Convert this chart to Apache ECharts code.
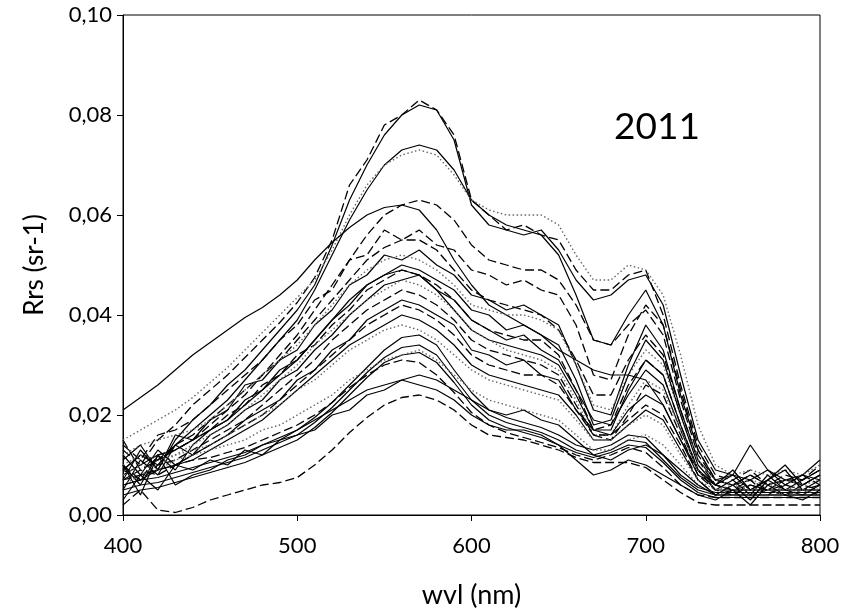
<!DOCTYPE html>
<html>
<head>
<meta charset="utf-8">
<script src="https://cdn.jsdelivr.net/npm/echarts@6/dist/echarts.min.js"></script>
<style>
  html, body { margin: 0; padding: 0; background: #fff; }
  #chart { width: 852px; height: 613px; }
</style>
</head>
<body>
<div id="chart"></div>
<script>
// wavelength grid (nm)
const wvl = [400,410,420,430,440,450,460,470,480,490,500,510,520,530,540,550,560,570,580,590,600,610,620,630,640,650,660,670,680,690,700,710,720,730,740,750,760,770,780,790,800];

// Rrs (sr-1) spectra
const r01 = [0.013,0.010,0.015,0.018,0.022,0.025,0.028,0.0315,0.035,0.0385,0.0425,0.0475,0.055,0.066,0.071,0.078,0.080,0.083,0.081,0.076,0.063,0.060,0.057,0.058,0.056,0.055,0.049,0.045,0.045,0.048,0.049,0.040,0.026,0.014,0.008,0.007,0.009,0.006,0.008,0.007,0.010];
const r02 = [0.011,0.014,0.009,0.015,0.019,0.022,0.026,0.029,0.033,0.037,0.041,0.046,0.054,0.063,0.070,0.076,0.080,0.082,0.081,0.075,0.062,0.058,0.057,0.056,0.057,0.053,0.047,0.043,0.044,0.047,0.048,0.042,0.028,0.015,0.009,0.008,0.007,0.009,0.007,0.008,0.011];
const r03 = [0.009,0.012,0.010,0.014,0.017,0.020,0.023,0.027,0.031,0.035,0.039,0.045,0.052,0.059,0.065,0.070,0.073,0.074,0.073,0.069,0.063,0.060,0.058,0.057,0.056,0.052,0.044,0.035,0.034,0.040,0.045,0.038,0.024,0.013,0.007,0.006,0.008,0.006,0.007,0.006,0.008];
const r04 = [0.015,0.017,0.019,0.021,0.0235,0.0265,0.0295,0.033,0.0365,0.040,0.0435,0.047,0.053,0.060,0.066,0.070,0.072,0.073,0.072,0.068,0.063,0.061,0.060,0.060,0.060,0.058,0.052,0.047,0.047,0.050,0.049,0.044,0.032,0.018,0.010,0.008,0.009,0.008,0.009,0.008,0.010];
const r05 = [0.010,0.007,0.012,0.013,0.015,0.018,0.021,0.024,0.028,0.032,0.036,0.041,0.046,0.051,0.056,0.060,0.062,0.063,0.062,0.059,0.054,0.051,0.050,0.049,0.049,0.047,0.042,0.035,0.034,0.038,0.041,0.036,0.023,0.012,0.007,0.006,0.007,0.005,0.007,0.006,0.008];
const r06 = [0.021,0.0235,0.026,0.029,0.032,0.0345,0.037,0.0395,0.0415,0.044,0.047,0.051,0.0545,0.0575,0.060,0.0615,0.062,0.061,0.057,0.051,0.046,0.042,0.040,0.038,0.036,0.033,0.031,0.029,0.028,0.028,0.027,0.022,0.015,0.009,0.006,0.005,0.005,0.005,0.005,0.005,0.005];
const r07 = [0.014,0.011,0.016,0.017,0.019,0.022,0.025,0.028,0.031,0.035,0.038,0.043,0.045,0.051,0.052,0.057,0.055,0.057,0.054,0.053,0.049,0.048,0.046,0.047,0.045,0.044,0.038,0.028,0.027,0.036,0.042,0.038,0.025,0.013,0.007,0.006,0.008,0.006,0.007,0.007,0.009];
const r08 = [0.009,0.012,0.011,0.014,0.016,0.019,0.022,0.025,0.028,0.031,0.035,0.039,0.043,0.047,0.051,0.0535,0.055,0.055,0.053,0.049,0.045,0.043,0.042,0.041,0.040,0.037,0.031,0.024,0.024,0.031,0.036,0.032,0.021,0.011,0.006,0.005,0.006,0.005,0.006,0.005,0.006];
const r09 = [0.007,0.013,0.009,0.016,0.015,0.019,0.021,0.026,0.027,0.031,0.033,0.038,0.041,0.046,0.048,0.052,0.051,0.053,0.050,0.048,0.044,0.043,0.041,0.042,0.040,0.038,0.030,0.021,0.020,0.030,0.038,0.033,0.021,0.011,0.007,0.008,0.014,0.009,0.006,0.008,0.007];
const r10 = [0.012,0.014,0.015,0.016,0.017,0.019,0.022,0.025,0.028,0.031,0.034,0.038,0.042,0.046,0.049,0.051,0.052,0.051,0.049,0.046,0.042,0.041,0.040,0.040,0.039,0.037,0.030,0.022,0.021,0.028,0.033,0.030,0.020,0.011,0.007,0.006,0.007,0.006,0.007,0.006,0.007];
const r11 = [0.010,0.006,0.012,0.009,0.014,0.017,0.019,0.023,0.025,0.029,0.031,0.035,0.039,0.042,0.046,0.048,0.050,0.049,0.047,0.045,0.041,0.040,0.037,0.038,0.036,0.034,0.027,0.018,0.019,0.028,0.035,0.031,0.020,0.010,0.006,0.009,0.005,0.007,0.010,0.006,0.008];
const r12 = [0.015,0.009,0.011,0.013,0.015,0.017,0.020,0.022,0.026,0.028,0.032,0.034,0.038,0.041,0.045,0.047,0.049,0.048,0.046,0.043,0.039,0.037,0.036,0.035,0.035,0.032,0.025,0.017,0.018,0.026,0.031,0.028,0.018,0.009,0.006,0.005,0.007,0.004,0.006,0.008,0.006];
const r13 = [0.008,0.010,0.012,0.013,0.015,0.017,0.019,0.022,0.025,0.028,0.031,0.035,0.039,0.043,0.046,0.048,0.049,0.048,0.045,0.041,0.037,0.035,0.034,0.033,0.032,0.030,0.024,0.017,0.017,0.025,0.031,0.028,0.018,0.009,0.005,0.005,0.005,0.005,0.005,0.005,0.005];
const r14 = [0.005,0.011,0.008,0.014,0.012,0.016,0.018,0.021,0.023,0.027,0.029,0.033,0.036,0.040,0.043,0.046,0.047,0.048,0.045,0.043,0.039,0.037,0.035,0.036,0.033,0.031,0.025,0.019,0.018,0.024,0.029,0.026,0.017,0.009,0.005,0.007,0.004,0.008,0.005,0.007,0.009];
const r15 = [0.006,0.008,0.010,0.012,0.014,0.016,0.018,0.021,0.024,0.027,0.030,0.034,0.037,0.040,0.043,0.045,0.047,0.046,0.044,0.041,0.037,0.035,0.033,0.032,0.031,0.029,0.023,0.016,0.016,0.022,0.027,0.025,0.017,0.009,0.005,0.006,0.005,0.006,0.005,0.006,0.005];
const r16 = [0.009,0.007,0.010,0.011,0.013,0.015,0.017,0.019,0.022,0.025,0.028,0.031,0.035,0.038,0.041,0.043,0.045,0.044,0.042,0.039,0.035,0.033,0.032,0.031,0.030,0.028,0.022,0.016,0.015,0.020,0.026,0.024,0.016,0.008,0.005,0.004,0.006,0.005,0.004,0.006,0.005];
const r17 = [0.012,0.008,0.013,0.010,0.012,0.014,0.016,0.019,0.021,0.023,0.027,0.029,0.033,0.035,0.039,0.041,0.043,0.042,0.040,0.038,0.033,0.032,0.030,0.031,0.028,0.027,0.021,0.017,0.016,0.021,0.024,0.022,0.015,0.008,0.006,0.008,0.005,0.007,0.009,0.005,0.007];
const r18 = [0.007,0.009,0.008,0.010,0.012,0.014,0.016,0.018,0.020,0.023,0.026,0.029,0.032,0.035,0.038,0.040,0.042,0.041,0.039,0.036,0.032,0.030,0.029,0.028,0.028,0.026,0.021,0.016,0.016,0.019,0.022,0.020,0.014,0.007,0.004,0.005,0.004,0.005,0.004,0.005,0.004];
const r19 = [0.006,0.007,0.009,0.010,0.011,0.013,0.015,0.017,0.019,0.022,0.025,0.028,0.031,0.034,0.036,0.038,0.040,0.039,0.037,0.034,0.030,0.028,0.027,0.026,0.025,0.024,0.020,0.015,0.015,0.018,0.021,0.019,0.013,0.007,0.004,0.004,0.004,0.004,0.004,0.004,0.004];
const r20 = [0.010,0.012,0.011,0.012,0.013,0.014,0.016,0.018,0.020,0.022,0.025,0.027,0.030,0.033,0.035,0.037,0.038,0.037,0.035,0.032,0.029,0.027,0.026,0.025,0.024,0.023,0.019,0.015,0.015,0.018,0.020,0.018,0.012,0.007,0.005,0.005,0.005,0.005,0.005,0.005,0.005];
const r21 = [0.006,0.007,0.0075,0.0085,0.0095,0.0105,0.0115,0.0125,0.014,0.0155,0.017,0.0195,0.0225,0.026,0.0295,0.033,0.0355,0.036,0.034,0.029,0.0245,0.021,0.0195,0.0185,0.0175,0.016,0.014,0.013,0.014,0.016,0.0155,0.012,0.008,0.0055,0.0045,0.0045,0.0045,0.0045,0.0045,0.0045,0.0045];
const r22 = [0.005,0.006,0.0065,0.0075,0.0085,0.0095,0.0105,0.0115,0.013,0.0145,0.016,0.0185,0.0215,0.025,0.0285,0.0315,0.0335,0.034,0.032,0.0275,0.023,0.020,0.0185,0.0175,0.0165,0.015,0.013,0.012,0.013,0.015,0.0145,0.011,0.0075,0.005,0.004,0.004,0.004,0.004,0.004,0.004,0.004];
const r23 = [0.004,0.005,0.0055,0.0065,0.0075,0.0085,0.0095,0.0105,0.012,0.0135,0.015,0.0175,0.0205,0.024,0.0275,0.0305,0.032,0.0325,0.0305,0.0265,0.022,0.019,0.0175,0.0165,0.0155,0.014,0.0125,0.0115,0.0125,0.014,0.0135,0.0105,0.007,0.0045,0.0035,0.0035,0.0035,0.0035,0.0035,0.0035,0.0035];
const r24 = [0.007,0.008,0.009,0.010,0.011,0.0115,0.0125,0.0135,0.015,0.0165,0.018,0.020,0.0225,0.0255,0.028,0.030,0.031,0.0305,0.028,0.0245,0.0205,0.018,0.0165,0.0155,0.0145,0.0135,0.012,0.011,0.012,0.0135,0.0125,0.0095,0.006,0.004,0.0035,0.0035,0.0035,0.0035,0.0035,0.0035,0.0035];
const r25 = [0.008,0.010,0.009,0.011,0.012,0.013,0.014,0.015,0.017,0.018,0.020,0.022,0.024,0.027,0.029,0.031,0.032,0.033,0.031,0.028,0.025,0.023,0.022,0.021,0.020,0.019,0.016,0.013,0.013,0.015,0.016,0.014,0.010,0.006,0.004,0.005,0.004,0.005,0.004,0.005,0.004];
const r26 = [0.003,0.008,0.005,0.010,0.009,0.011,0.010,0.013,0.012,0.015,0.016,0.017,0.020,0.021,0.024,0.025,0.027,0.028,0.027,0.025,0.023,0.021,0.020,0.021,0.019,0.018,0.015,0.012,0.011,0.013,0.014,0.012,0.009,0.006,0.004,0.006,0.003,0.007,0.005,0.004,0.006];
const r27 = [0.002,0.005,0.001,0.0005,0.0015,0.003,0.004,0.005,0.006,0.0065,0.0075,0.010,0.013,0.0165,0.0195,0.022,0.0235,0.024,0.023,0.021,0.018,0.016,0.0155,0.015,0.014,0.013,0.0115,0.0105,0.0105,0.0105,0.0095,0.007,0.0045,0.0025,0.002,0.002,0.002,0.002,0.002,0.002,0.002];
const r28 = [0.010,0.004,0.012,0.006,0.008,0.009,0.011,0.012,0.014,0.015,0.017,0.019,0.021,0.023,0.025,0.026,0.027,0.026,0.025,0.023,0.020,0.018,0.017,0.017,0.016,0.014,0.011,0.008,0.009,0.011,0.010,0.008,0.006,0.004,0.003,0.005,0.002,0.006,0.004,0.003,0.005];

const spectra = [r01,r02,r03,r04,r05,r06,r07,r08,r09,r10,r11,r12,r13,r14,r15,r16,r17,r18,r19,r20,r21,r22,r23,r24,r25,r26,r27,r28];
// line style per spectrum: s = solid, d = dashed, o = dotted
const kinds = ['d','s','s','o','d','s','d','d','s','o','s','d','s','s','o','d','s','d','s','o','s','s','s','d','o','s','d','s'];

const yTickLabels = ['0,00','0,02','0,04','0,06','0,08','0,10'];
const FONT = 'Lato, "Open Sans", sans-serif';

const styleOf = k => {
    if (k === 'd') return { color: '#000', width: 1.3, type: [9, 4] };
    if (k === 'o') return { color: '#666', width: 1.4, type: [1.5, 2.5] };
    return { color: '#000', width: 1.2, type: 'solid' };
};

const series = spectra.map((s, i) => ({
    type: 'line',
    data: wvl.map((w, j) => [w, s[j]]),
    showSymbol: false,
    silent: true,
    lineStyle: styleOf(kinds[i]),
}));

const chart = echarts.init(document.getElementById('chart'));
chart.setOption({
    animation: false,
    backgroundColor: '#fff',
    grid: {
        left: 123, right: 32, top: 15, bottom: 98,
        outerBoundsMode: 'none',
        show: true, borderColor: '#000', borderWidth: 1,
    },
    xAxis: {
        type: 'value', min: 400, max: 800, interval: 100,
        name: 'wvl (nm)', nameLocation: 'middle', nameGap: 67,
        nameTextStyle: { color: '#000', fontSize: 27, fontFamily: FONT },
        axisLine: { lineStyle: { color: '#000', width: 1 } },
        axisTick: { length: 6, lineStyle: { color: '#000' } },
        axisLabel: { color: '#000', fontSize: 22, fontFamily: FONT, margin: 20 },
        splitLine: { show: false },
    },
    yAxis: {
        type: 'value', min: 0, max: 0.1, interval: 0.02,
        name: 'Rrs (sr-1)', nameLocation: 'middle', nameGap: 75, nameRotate: 90,
        nameTextStyle: { color: '#000', fontSize: 26, fontFamily: FONT },
        axisLine: { lineStyle: { color: '#000', width: 1 } },
        axisTick: { length: 6, lineStyle: { color: '#000' } },
        axisLabel: { color: '#000', fontSize: 22, fontFamily: FONT, margin: 11,
            formatter: (v, idx) => yTickLabels[idx] },
        splitLine: { show: false },
    },
    graphic: [{
        type: 'text', left: 614, top: 109,
        style: { text: '2011', fontSize: 37, fontFamily: FONT, fill: '#000' },
    }],
    series,
});
</script>
</body>
</html>
